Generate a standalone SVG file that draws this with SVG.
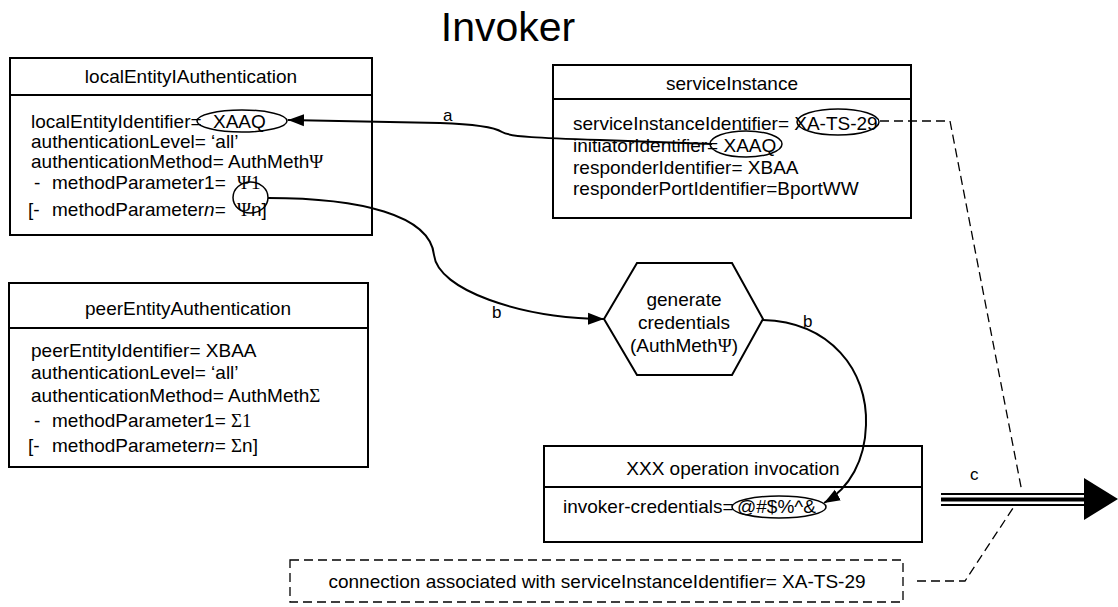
<svg xmlns="http://www.w3.org/2000/svg" width="1118" height="607" viewBox="0 0 1118 607">
<style>
text{font-family:"Liberation Sans",Arial,sans-serif;font-size:19px;fill:#000}
.t{text-anchor:middle}
.g{font-family:"Liberation Serif","Times New Roman",serif}
.box{fill:#fff;stroke:#000;stroke-width:2}
.ov{fill:none;stroke:#000;stroke-width:1.5}
.ln{fill:none;stroke:#000;stroke-width:2}
.ds{fill:none;stroke:#000;stroke-width:1.3;stroke-dasharray:9 5}
.lb{font-size:17px}
</style>
<defs>
<marker id="ah" markerUnits="userSpaceOnUse" markerWidth="18" markerHeight="14" refX="16" refY="6" orient="auto" viewBox="0 0 18 12">
<path d="M0,0 L16,6 L0,12 Z" fill="#000"/>
</marker>
</defs>
<text class="t" x="508" y="41" style="font-size:41px">Invoker</text>

<g id="localEntity">
<rect class="box" x="10" y="58" width="362" height="177"/>
<line class="ln" x1="10" y1="95" x2="372" y2="95"/>
<text class="t" x="191" y="83">localEntityIAuthentication</text>
<text x="31" y="127.5">localEntityIdentifier= <tspan x="213">XAAQ</tspan></text>
<text x="31" y="147.5">authenticationLevel= ‘all’</text>
<text x="31" y="167.5">authenticationMethod= AuthMeth<tspan class="g">Ψ</tspan></text>
<text y="189"><tspan x="34">-</tspan><tspan x="52">methodParameter1=</tspan><tspan class="g" x="237">Ψ1</tspan></text>
<text y="216"><tspan x="28">[-</tspan><tspan x="52">methodParameter<tspan font-style="italic">n</tspan>=</tspan><tspan class="g" x="237">Ψ</tspan>n]</text>
<ellipse class="ov" cx="242" cy="121" rx="45" ry="11"/>
<ellipse class="ov" cx="250.5" cy="197.5" rx="17.5" ry="15.5"/>
</g>

<g id="serviceInstance">
<rect class="box" x="553" y="65" width="358" height="153"/>
<line class="ln" x1="553" y1="99" x2="911" y2="99"/>
<text class="t" x="732" y="90">serviceInstance</text>
<text x="573" y="129.5">serviceInstanceIdentifier= XA-TS-29</text>
<text x="573" y="151.5">initiatorIdentifier= XAAQ</text>
<text x="573" y="173.5">responderIdentifier= XBAA</text>
<text x="573" y="194.5">responderPortIdentifier=BportWW</text>
<ellipse class="ov" cx="838" cy="122" rx="41" ry="13"/>
<ellipse class="ov" cx="746" cy="144" rx="36" ry="13"/>
</g>

<g id="peerEntity">
<rect class="box" x="9" y="283" width="359" height="184"/>
<line class="ln" x1="9" y1="328" x2="368" y2="328"/>
<text class="t" x="188" y="314.5">peerEntityAuthentication</text>
<text x="31" y="356.5">peerEntityIdentifier= XBAA</text>
<text x="31" y="378.5">authenticationLevel= ‘all’</text>
<text x="31" y="402">authenticationMethod= AuthMeth<tspan class="g">Σ</tspan></text>
<text y="427"><tspan x="34">-</tspan><tspan x="52">methodParameter1= </tspan><tspan class="g">Σ1</tspan></text>
<text y="451.5"><tspan x="28">[-</tspan><tspan x="52">methodParameter<tspan font-style="italic">n</tspan>= </tspan><tspan class="g">Σ</tspan>n]</text>
</g>

<g id="generateCredentials">
<polygon class="box" points="604,319 637,263 732,263 763,319 732,375 637,375"/>
<text class="t" x="684" y="305.5">generate</text>
<text class="t" x="684" y="328.5">credentials</text>
<text class="t" x="684" y="351.5">(AuthMeth<tspan class="g">Ψ</tspan>)</text>
</g>

<g id="operationInvocation">
<rect class="box" x="544" y="446" width="378" height="96"/>
<line class="ln" x1="544" y1="487" x2="922" y2="487"/>
<text class="t" x="733" y="474.5">XXX operation invocation</text>
<text x="563" y="513">invoker-credentials= <tspan x="737">@#$%^&amp;</tspan></text>
<ellipse class="ov" cx="779" cy="507" rx="47" ry="11"/>
</g>

<g id="connection">
<rect x="290" y="560" width="613" height="42" fill="none" stroke="#000" stroke-width="1.3" stroke-dasharray="9 5"/>
<text class="t" x="597" y="587.5">connection associated with serviceInstanceIdentifier= XA-TS-29</text>
</g>

<g id="connectors">
<path class="ln" d="M712,144 L600,140 C540,138 510,137 502,132 C494,127 470,124 440,123 L288,120" marker-end="url(#ah)"/>
<text class="lb" x="443" y="121">a</text>
<path class="ln" d="M268,198 C360,198 430,215 434,255 C438,290 520,318 604,319" marker-end="url(#ah)"/>
<text class="lb" x="492" y="318">b</text>
<path class="ln" d="M763,320 C830,322 868,370 866,425 C865,460 850,488 824,503" marker-end="url(#ah)"/>
<text class="lb" x="803" y="327">b</text>
<path class="ds" d="M880,121 L950,121 L1022,492"/>
<path class="ds" d="M917,581 L965,581 L1015,505"/>
<line x1="941" y1="494" x2="1086" y2="494" stroke="#000" stroke-width="2"/>
<line x1="941" y1="499.5" x2="1086" y2="499.5" stroke="#000" stroke-width="4"/>
<line x1="941" y1="505" x2="1086" y2="505" stroke="#000" stroke-width="2"/>
<polygon points="1084,478 1118,499 1084,520" fill="#000"/>
<text class="lb" x="970" y="480">c</text>
</g>
</svg>
